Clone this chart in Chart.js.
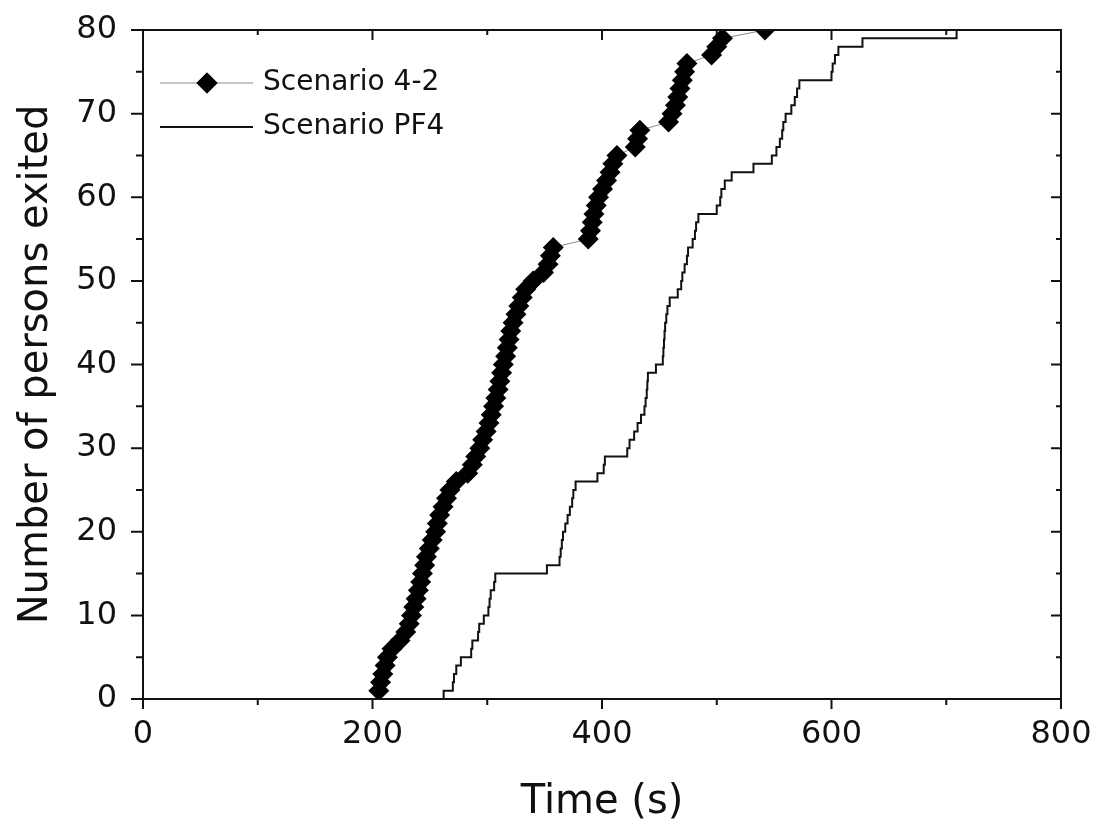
<!DOCTYPE html>
<html>
<head>
<meta charset="utf-8">
<script src="https://cdn.jsdelivr.net/npm/chart.js@4.4.0/dist/chart.umd.min.js"></script>
<style>
  html, body { margin: 0; padding: 0; background: #fff; }
  #wrap { width: 1099px; height: 830px; position: relative; }
</style>
</head>
<body>
<div id="wrap"><canvas id="myChart"></canvas></div>
<script>
// Scenario 4-2: exit time (s) of each person
const time42 = [205.5, 207, 209, 211, 213, 217, 224, 229, 232, 234,
                236, 238, 240, 242, 243.5, 245.5, 247, 249.5, 252, 255,
                256.5, 258.5, 261.5, 264.5, 267.5, 273, 283, 287, 290, 293.5,
                296, 299, 301.5, 303.5, 305.5, 307.5, 309.5, 311, 312.5, 314,
                316, 317.5, 319, 320.5, 322.5, 325, 327.5, 330.5, 333.5, 340,
                349, 353, 355, 357.5, 388, 390, 391.5, 393, 395, 397,
                400.5, 404, 407, 409.5, 413, 429, 431, 433, 458, 461,
                464, 466, 468, 470, 472, 474, 495.5, 500, 505, 542];
const exited42 = [1, 2, 3, 4, 5, 6, 7, 8, 9, 10,
                  11, 12, 13, 14, 15, 16, 17, 18, 19, 20,
                  21, 22, 23, 24, 25, 26, 27, 28, 29, 30,
                  31, 32, 33, 34, 35, 36, 37, 38, 39, 40,
                  41, 42, 43, 44, 45, 46, 47, 48, 49, 50,
                  51, 52, 53, 54, 55, 56, 57, 58, 59, 60,
                  61, 62, 63, 64, 65, 66, 67, 68, 69, 70,
                  71, 72, 73, 74, 75, 76, 77, 78, 79, 80];

// Scenario PF4: cumulative count, stepped
const timePF4 = [260, 262, 270, 271, 273, 277, 286, 287, 292, 293,
                 297, 301, 302, 303, 306, 307, 352, 363, 364, 365,
                 366, 368, 370, 372, 374, 375, 377, 396, 401.5, 402.5,
                 422, 424, 428, 431, 434, 437, 438, 439, 439.5, 440,
                 447, 453, 453.5, 454, 454.5, 455, 456, 457, 459, 466,
                 469, 470, 472, 474, 475, 479, 481, 482, 484, 500,
                 503, 504, 507, 513, 532, 548, 552, 555, 557, 558,
                 560, 565, 568, 570, 572, 600, 601, 603, 606, 627, 709];
const exitedPF4 = [0, 1, 2, 3, 4, 5, 6, 7, 8, 9,
                   10, 11, 12, 13, 14, 15, 16, 17, 18, 19,
                   20, 21, 22, 23, 24, 25, 26, 27, 28, 29,
                   30, 31, 32, 33, 34, 35, 36, 37, 38, 39,
                   40, 41, 42, 43, 44, 45, 46, 47, 48, 49,
                   50, 51, 52, 53, 54, 55, 56, 57, 58, 59,
                   60, 61, 62, 63, 64, 65, 66, 67, 68, 69,
                   70, 71, 72, 73, 74, 75, 76, 77, 78, 79, 80];

const xTickValues = [0, 200, 400, 600, 800];
const yTickValues = [0, 10, 20, 30, 40, 50, 60, 70, 80];

const FONT = 'DejaVu Sans';
const INK = '#111';

// keep the plot box fixed: no extra room for overhanging labels
function noLabelPadding(s) {
  s.paddingTop = 0; s.paddingBottom = 0; s.paddingLeft = 0; s.paddingRight = 0;
}

// frame + Origin style ticks (out on bottom/left, in on top/right)
const frameTicks = {
  id: 'frameTicks',
  afterDatasetsDraw(chart) {
    const { ctx, chartArea: a, scales: { x, y } } = chart;
    ctx.save();
    ctx.strokeStyle = INK;
    ctx.lineWidth = 2;
    ctx.strokeRect(a.left, a.top, a.right - a.left, a.bottom - a.top);
    ctx.beginPath();
    for (let i = 0; i < xTickValues.length; i++) {
      const px = x.getPixelForValue(xTickValues[i]);
      ctx.moveTo(px, a.bottom); ctx.lineTo(px, a.bottom + 10);
      ctx.moveTo(px, a.top); ctx.lineTo(px, a.top + 10);
      if (i < xTickValues.length - 1) {
        const mx = x.getPixelForValue((xTickValues[i] + xTickValues[i + 1]) / 2);
        ctx.moveTo(mx, a.bottom); ctx.lineTo(mx, a.bottom + 6);
        ctx.moveTo(mx, a.top); ctx.lineTo(mx, a.top + 5);
      }
    }
    for (let i = 0; i < yTickValues.length; i++) {
      const py = y.getPixelForValue(yTickValues[i]);
      ctx.moveTo(a.left, py); ctx.lineTo(a.left - 12, py);
      ctx.moveTo(a.right, py); ctx.lineTo(a.right - 10, py);
      if (i < yTickValues.length - 1) {
        const my = y.getPixelForValue((yTickValues[i] + yTickValues[i + 1]) / 2);
        ctx.moveTo(a.left, my); ctx.lineTo(a.left - 7, my);
        ctx.moveTo(a.right, my); ctx.lineTo(a.right - 5, my);
      }
    }
    ctx.stroke();
    ctx.restore();
  }
};

// legend inside the plot, top left
const innerLegend = {
  id: 'innerLegend',
  afterDraw(chart) {
    const { ctx } = chart;
    const ds = chart.data.datasets;
    const rows = [83, 127];
    ctx.save();
    ctx.font = '28px "' + FONT + '"';
    ctx.textBaseline = 'middle';
    ds.forEach((d, i) => {
      const yy = rows[i];
      ctx.beginPath();
      ctx.strokeStyle = d.borderColor;
      ctx.lineWidth = d.borderWidth;
      ctx.moveTo(160, yy); ctx.lineTo(253, yy);
      ctx.stroke();
      if (d.pointRadius > 0) {
        ctx.fillStyle = d.pointBackgroundColor;
        Chart.helpers.drawPoint(ctx, { pointStyle: 'rectRot', radius: d.pointRadius, borderWidth: 0 }, 207, yy);
        ctx.fill();
      }
      ctx.fillStyle = INK;
      ctx.fillText(d.label, 263, yy);
    });
    ctx.restore();
  }
};

const ctx = document.getElementById('myChart').getContext('2d');

const myChart = new Chart(ctx, {
  type: 'line',
  data: {
    datasets: [{
      label: 'Scenario 4-2',
      data: time42.map((t, i) => ({ x: t, y: exited42[i] })),
      borderColor: '#8a8a8a',
      borderWidth: 1,
      pointStyle: 'rectRot',
      pointRadius: 10.5,
      pointBackgroundColor: '#000',
      pointBorderWidth: 0,
      pointHoverRadius: 10.5
    }, {
      label: 'Scenario PF4',
      data: timePF4.map((t, i) => ({ x: t, y: exitedPF4[i] })),
      borderColor: INK,
      borderWidth: 2,
      stepped: true,
      pointRadius: 0
    }]
  },
  options: {
    responsive: true,
    maintainAspectRatio: false,
    animation: false,
    layout: { padding: { top: 30, right: 38, bottom: 0, left: 0 } },
    plugins: { legend: { display: false }, tooltip: { enabled: false } },
    scales: {
      x: {
        type: 'linear',
        min: 0, max: 800,
        afterBuildTicks: s => { s.ticks = xTickValues.map(v => ({ value: v })); },
        afterFit: s => { s.height = 131; noLabelPadding(s); },
        grid: { display: false, drawTicks: false },
        border: { display: false },
        ticks: { color: INK, font: { family: FONT, size: 32 }, padding: 16, maxRotation: 0 },
        title: { display: true, text: 'Time (s)', color: INK, font: { family: FONT, size: 40 }, padding: { top: 0, bottom: 3 } }
      },
      y: {
        min: 0, max: 80,
        afterBuildTicks: s => { s.ticks = yTickValues.map(v => ({ value: v })); },
        afterFit: s => { s.width = 143; noLabelPadding(s); },
        grid: { display: false, drawTicks: false },
        border: { display: false },
        ticks: { color: INK, font: { family: FONT, size: 32 }, padding: 26 },
        title: { display: true, text: 'Number of persons exited', color: INK, font: { family: FONT, size: 40 }, padding: { top: 13, bottom: 0 } }
      }
    }
  },
  plugins: [frameTicks, innerLegend]
});
</script>
</body>
</html>
